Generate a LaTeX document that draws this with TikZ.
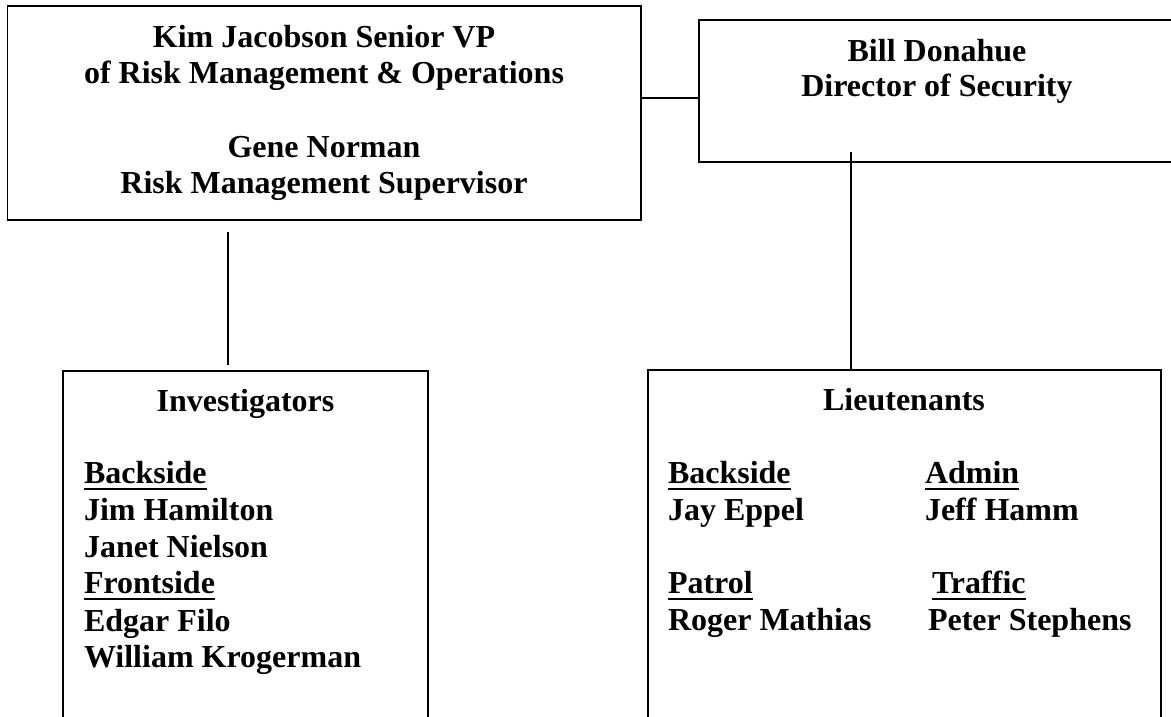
\documentclass[tikz,border=0pt]{standalone}
\usepackage{fontspec}
\setmainfont{Liberation Serif}
\newcommand{\myul}[1]{\setbox0\hbox{#1}\rlap{\vrule width\wd0 height -5pt depth 7pt}\box0}
\begin{document}
\begin{tikzpicture}[x=1pt,y=-1pt,
  box/.style={draw,line width=1.8pt,inner sep=0pt,outer sep=0pt},
  conn/.style={line width=1.6pt},
  txt/.style={font=\fontsize{32}{37}\selectfont\bfseries,inner sep=0pt,outer sep=0pt},
  ctr/.style={txt,anchor=base},
  lft/.style={txt,anchor=base west}]
\useasboundingbox (0,0) rectangle (1171,717);
\fill[white] (0,0) rectangle (1171,717);

% boxes
\node[box,minimum width=633.5pt,minimum height=213.6pt] (tl) at (324.25,113.2) {};
\node[box,minimum width=476pt,minimum height=142pt] (tr) at (937,91) {};
\node[box,minimum width=365pt,minimum height=389pt] (bl) at (245.5,565.5) {};
\node[box,minimum width=513pt,minimum height=390pt] (br) at (904.5,565) {};

% helper coordinates
\coordinate (h) at (0,98);
\coordinate (lx) at (228,0);
\coordinate (rx) at (851,0);

% connectors
\draw[conn] (tl.east |- h) -- (tr.west |- h);
\draw[conn] ([yshift=-12pt]tl.south -| lx) -- ([yshift=6pt]bl.north -| lx);
\draw[conn] ([yshift=10pt]tr.south -| rx) -- (br.north -| rx);

% top-left text
\node[ctr] (t1) at (324,47.5) {Kim Jacobson Senior VP};
\node[ctr] (t2) at (324,84) {of Risk Management \& Operations};
\node[ctr] (t3) at (324,157.5) {Gene Norman};
\node[ctr] (t4) at (324,193.5) {Risk Management Supervisor};

% top-right text
\node[ctr] (r1) at (937,62) {Bill Donahue};
\node[ctr] (r2) at (937,97) {Director of Security};

% bottom-left text
\node[ctr] (i0) at (245.5,411) {Investigators};
\node[lft] (i1) at (84,483) {\myul{Backside}};
\node[lft] (i2) at (84,520) {Jim Hamilton};
\node[lft] (i3) at (84,557) {Janet Nielson};
\node[lft] (i4) at (84,593) {\myul{Frontside}};
\node[lft] (i5) at (84,631) {Edgar Filo};
\node[lft] (i6) at (84,667) {William Krogerman};

% bottom-right text
\node[ctr] (l0) at (904,410) {Lieutenants};
\node[lft] (l1) at (668,483) {\myul{Backside}};
\node[lft] (l2) at (668,520) {Jay Eppel};
\node[lft] (l3) at (925,483) {\myul{Admin}};
\node[lft] (l4) at (925,520) {Jeff Hamm};
\node[lft] (l5) at (668,593) {\myul{Patrol}};
\node[lft] (l6) at (668,630) {Roger Mathias};
\node[lft] (l7) at (932,593) {\myul{Traffic}};
\node[lft] (l8) at (928,630) {Peter Stephens};
\end{tikzpicture}
\end{document}
